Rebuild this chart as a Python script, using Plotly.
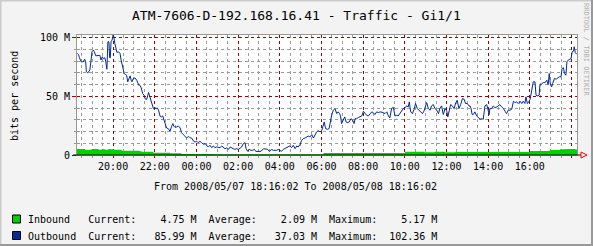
import plotly.graph_objects as go
import pandas as pd

# ---------------- data ----------------
START = pd.Timestamp("2008-05-07 18:16:02")
END = START + pd.Timedelta(hours=24)

# outbound traffic: minutes after start, value in Mbit/s
out_minutes = [
    1, 4, 7, 12, 18, 22, 25, 27, 31, 34, 37, 40, 43, 47, 50, 54, 61, 66, 69, 73, 76, 80,
    83, 86, 89, 92, 94, 96, 98, 101, 104, 106, 109, 112, 115, 120, 124, 127, 130, 133,
    136, 139, 143, 146, 150, 153, 156, 158, 162, 167, 172, 175, 178, 181, 185, 189, 193,
    197, 201, 204, 206, 210, 213, 216, 220, 225, 228, 231, 235, 239, 243, 247, 251, 254,
    258, 263, 268, 272, 276, 279,
    281, 287, 292, 297, 301, 306, 311, 316, 321, 325, 330, 335, 340, 345, 349, 354, 359,
    364, 369, 373, 378, 383, 388, 393, 397, 402, 407, 412, 417, 421, 426, 431, 436, 441,
    445, 450, 455, 460, 465, 469, 474, 479, 484, 487, 492, 496, 501, 506, 511, 515, 520,
    525, 530, 537, 543, 549, 554,
    561, 565, 570, 575, 580, 585, 589, 594, 599, 604, 609, 613, 618, 623, 628, 633, 637,
    642, 647, 652, 657, 661, 666, 671, 676, 681, 685, 690, 695, 700, 705, 709, 712, 716,
    721, 726, 729, 733, 738, 743, 748, 752, 756, 759, 762, 767, 771, 775, 780, 784, 789,
    794, 798, 801, 805, 810, 815, 820, 825, 829, 834, 839, 844, 849, 853,
    858, 863, 868, 873, 877, 882, 887, 892, 897, 901, 906, 911, 916, 921, 925, 930, 935,
    940, 945, 949, 954, 957, 961, 966, 971, 975, 980, 985, 990, 995, 999, 1004, 1007,
    1012, 1017, 1021, 1026, 1031, 1036, 1041, 1045, 1050, 1055, 1060, 1065, 1068, 1072,
    1076, 1081, 1086, 1091, 1095, 1100, 1105, 1110, 1115, 1119, 1124, 1129,
    1132, 1135, 1138, 1141, 1146, 1151, 1156, 1161, 1165, 1170, 1175, 1180, 1183, 1187,
    1189, 1194, 1199, 1204, 1209, 1213, 1218, 1223, 1228, 1233, 1237, 1242, 1247, 1252,
    1257, 1261, 1266, 1271, 1276, 1281, 1285, 1290, 1293, 1297, 1300, 1305, 1309, 1314,
    1319, 1322, 1327, 1331, 1333, 1338, 1343, 1348, 1353, 1357, 1360, 1363, 1367, 1370,
    1375, 1380, 1384, 1389, 1394, 1397, 1401, 1404, 1408, 1411, 1415, 1420, 1423, 1426,
    1430, 1432, 1435, 1439,
]
out_mbps = [
    86.6, 85.8, 83.0, 79.5, 79.5, 81.8, 79.5, 71.0, 70.0, 71.5, 72.4, 79.5, 88.0, 89.5,
    88.0, 84.6, 84.6, 85.0, 81.0, 83.8, 82.0, 83.0,
    79.5, 73.2, 96.6, 96.6, 83.0, 83.0, 96.6, 98.0, 102.36, 100.9, 95.0, 91.0, 87.5,
    88.0, 86.5, 81.0, 76.6, 72.4, 69.5, 68.8, 68.0, 62.4, 65.8, 67.5, 63.8, 62.4, 65.2,
    65.8, 63.8, 61.0, 59.5, 59.5, 57.3, 52.4, 51.0, 47.6, 47.6, 51.0, 53.3, 49.6, 45.9,
    41.9, 39.6, 40.2, 39.6, 40.2, 38.2, 33.3, 32.5, 33.3, 29.6, 24.8, 23.0, 22.5, 20.2,
    24.0, 26.8, 24.5,
    23.9, 23.9, 24.5, 23.4, 19.1, 17.4, 16.2, 14.5, 16.0, 14.8, 14.5, 12.0, 11.1, 11.7,
    10.5, 11.7, 10.5, 9.1, 9.7, 8.3, 6.8, 8.3, 6.3, 7.7, 6.3, 6.8, 6.8, 6.3, 7.7, 6.6,
    5.4, 6.0, 4.8, 6.8, 6.0, 5.4, 4.8, 5.4, 4.8, 5.4, 6.8, 9.7, 10.5, 5.4, 3.1, 4.8, 4.0,
    4.0, 4.8, 3.1, 3.1, 3.1, 3.1, 5.4, 5.4, 4.8, 3.1,
    4.8, 4.0, 4.0, 4.0, 4.8, 4.0, 3.1, 4.8, 5.4, 6.0, 6.8, 7.7, 6.3, 8.3, 5.4, 7.7, 6.8,
    8.8, 12.5, 14.0, 14.5, 15.1, 16.2, 15.4, 17.4, 14.5, 17.4, 19.7, 20.8, 19.7, 21.0,
    26.8, 28.2, 22.5, 21.9, 22.5, 27.6, 33.3, 38.2, 39.6, 35.3, 36.8, 35.3, 33.3, 26.8,
    30.5, 32.5, 28.2, 27.6, 28.2, 31.0, 29.6, 26.8, 31.0, 31.0, 31.9, 32.5, 33.3, 37.3,
    35.3, 33.9, 33.3, 35.3, 36.8, 36.2,
    34.5, 36.8, 36.2, 36.8, 36.8, 36.2, 35.3, 36.8, 33.3, 31.6, 39.6, 40.7, 33.3, 33.9,
    33.3, 35.3, 36.8, 39.6, 40.2, 41.9, 41.0, 45.3, 36.8, 35.3, 39.0, 43.9, 39.6, 38.2,
    36.2, 35.3, 37.3, 41.9, 44.7, 39.6, 38.2, 41.9, 43.0, 39.6, 38.2, 35.3, 39.6, 41.9,
    34.5, 39.6, 37.3, 32.5, 38.2, 43.0, 41.9, 39.6, 44.7, 46.7, 39.6, 43.0, 48.1, 47.6,
    43.9, 43.9, 41.9,
    41.9, 39.6, 34.5, 34.5, 36.8, 33.3, 31.6, 30.5, 31.0, 30.5, 41.9, 43.0, 39.6, 34.5,
    39.6, 39.6, 41.9, 40.2, 41.0, 41.9, 43.0, 41.0, 39.6, 37.3, 35.3, 38.2, 38.2, 39.0,
    45.9, 44.7, 45.3, 43.9, 45.9, 43.9, 45.9, 43.9, 49.6, 43.9, 44.7, 47.6, 53.8, 62.4,
    62.4, 51.0, 50.4, 51.0, 59.5, 61.0, 61.8, 61.8, 63.8, 60.0, 69.5, 61.0, 58.1, 61.0,
    65.2, 64.7, 65.8, 66.7, 66.7, 73.8, 74.4, 69.5, 68.0, 79.5, 81.0, 82.3, 82.3, 88.0,
    88.6, 92.3, 87.5, 85.99,
]

# inbound traffic (step series): minutes after start, value in Mbit/s
in_minutes = [0, 23, 42, 62, 71, 81, 90, 95, 105, 129, 181, 186, 220, 268, 300, 393,
              710, 945, 1000, 1030, 1060, 1090, 1130, 1305, 1362, 1391, 1410, 1435, 1440]
in_mbps = [5.1, 4.5, 5.1, 4.4, 4.8, 4.4, 5.17, 4.8, 4.5, 3.7, 3.1, 2.8, 2.0, 1.4, 0.9,
           0.55, 1.7, 2.7, 2.4, 2.7, 2.4, 2.6, 2.6, 3.4, 4.3, 4.8, 5.1, 4.75, 4.75]

tick_times = ["2008-05-07 20:00", "2008-05-07 22:00", "2008-05-08 00:00",
              "2008-05-08 02:00", "2008-05-08 04:00", "2008-05-08 06:00",
              "2008-05-08 08:00", "2008-05-08 10:00", "2008-05-08 12:00",
              "2008-05-08 14:00", "2008-05-08 16:00", "2008-05-08 18:00"]
tick_labels = ["20:00", "22:00", "00:00", "02:00", "04:00", "06:00",
               "08:00", "10:00", "12:00", "14:00", "16:00", ""]
y_tickvals = [0, 50, 100]
y_ticklabels = ["0", "50 M", "100 M"]

series_names = ["Inbound", "Outbound"]
series_colors = ["#00CF00", "#002A97"]
current_vals = [4.75, 85.99]
average_vals = [2.09, 37.03]
maximum_vals = [5.17, 102.36]

title_text = "ATM-7606-D-192.168.16.41 - Traffic - Gi1/1"
y_title = "bits per second"
range_text = "From 2008/05/07 18:16:02 To 2008/05/08 18:16:02"
watermark = "RRDTOOL / TOBI OETIKER"

# ---------------- figure ----------------
W, H = 593, 246
PL, PR, PT, PB = 77, 577, 35, 155
FONT = "DejaVu Sans Mono"


def xp(px):
    return (px - PL) / (PR - PL)


def yp(py):
    return (PB - py) / (PB - PT)


out_x = [START + pd.Timedelta(minutes=m) for m in out_minutes]
in_x = [START + pd.Timedelta(minutes=m) for m in in_minutes]

fig = go.Figure()
fig.add_trace(go.Scatter(
    x=in_x, y=in_mbps, mode="lines", line=dict(width=0, shape="hv", color=series_colors[0]),
    fill="tozeroy", fillcolor=series_colors[0], name=series_names[0], hoverinfo="skip"))
fig.add_trace(go.Scatter(
    x=out_x, y=out_mbps, mode="lines", line=dict(width=1, color=series_colors[1]),
    name=series_names[1], hoverinfo="skip"))

fig.update_layout(
    width=W, height=H,
    margin=dict(l=PL, r=W - PR, t=PT, b=H - PB, pad=0),
    paper_bgcolor="#F3F3F3", plot_bgcolor="#FFFFFF",
    showlegend=False,
    font=dict(family=FONT, size=10, color="#000000"),
)
fig.update_xaxes(
    type="date", range=[START, END],
    tickvals=tick_times, ticktext=tick_labels,
    showgrid=True, gridcolor="rgba(140,0,0,0.95)", griddash="dot", gridwidth=1,
    ticks="outside", ticklen=2, tickcolor="#A00000",
    tickfont=dict(family=FONT, size=10),
    showline=True, linecolor="#999999", linewidth=1, mirror=True,
    zeroline=False,
    minor=dict(dtick=30 * 60 * 1000, showgrid=True, gridcolor="#9A9A9A",
               griddash="dot", gridwidth=1, ticks="outside", ticklen=2, tickcolor="#999999"),
)
fig.update_yaxes(
    range=[0, 102.36],
    tickvals=y_tickvals, ticktext=y_ticklabels,
    showgrid=True, gridcolor="rgba(140,0,0,0.95)", griddash="dot", gridwidth=1,
    ticks="outside", ticklen=4, tickcolor="#A00000",
    tickfont=dict(family=FONT, size=10),
    showline=True, linecolor="#999999", linewidth=1, mirror=True,
    zeroline=False,
    minor=dict(dtick=10, showgrid=True, gridcolor="#9A9A9A", griddash="dot", gridwidth=1,
               ticks="outside", ticklen=2, tickcolor="#999999"),
)

shapes = []
# x axis line (black) and red arrow
shapes.append(dict(type="line", xref="paper", yref="paper", x0=xp(PL - 4), x1=xp(581),
                   y0=0, y1=0, line=dict(color="#101010", width=1), layer="above"))
ax, ay = xp(581), 0
shapes.append(dict(type="path", xref="paper", yref="paper",
                   path=f"M {ax},{yp(PB - 3)} L {xp(587)},{ay} L {ax},{yp(PB + 3)} Z",
                   line=dict(color="#FF0000", width=1), fillcolor="rgba(0,0,0,0)",
                   layer="above"))
# image frame (shaded border)
shapes.append(dict(type="line", xref="paper", yref="paper", x0=xp(0.5), x1=xp(0.5),
                   y0=yp(0), y1=yp(H), line=dict(color="#CBCBCB", width=2)))
shapes.append(dict(type="line", xref="paper", yref="paper", x0=xp(0), x1=xp(W),
                   y0=yp(0.5), y1=yp(0.5), line=dict(color="#CBCBCB", width=2)))
shapes.append(dict(type="line", xref="paper", yref="paper", x0=xp(W - 1), x1=xp(W - 1),
                   y0=yp(0), y1=yp(H), line=dict(color="#999999", width=2)))
shapes.append(dict(type="line", xref="paper", yref="paper", x0=xp(0), x1=xp(W),
                   y0=yp(H - 1), y1=yp(H - 1), line=dict(color="#999999", width=2)))

annotations = [
    dict(text=title_text, x=xp(296.5), y=yp(16), font=dict(family=FONT, size=13)),
    dict(text=y_title, x=xp(14), y=yp(96), textangle=-90, font=dict(family=FONT, size=10)),
    dict(text=range_text, x=xp(295.5), y=yp(186), font=dict(family=FONT, size=10)),
    dict(text=watermark, x=xp(586), y=yp(50), textangle=90,
         font=dict(family=FONT, size=7, color="#B0B0B0")),
]

row_y = [219.5, 236]
for i, name in enumerate(series_names):
    line = (f"{name:<10}Current:{current_vals[i]:>8.2f} M  "
            f"Average:{average_vals[i]:>8.2f} M  Maximum:{maximum_vals[i]:>8.2f} M")
    annotations.append(dict(text=line.replace(" ", "\u00a0"), x=xp(25.5), y=yp(row_y[i]),
                            xanchor="left", font=dict(family=FONT, size=10)))
    shapes.append(dict(type="rect", xref="paper", yref="paper",
                       x0=xp(12.5), x1=xp(20.5), y0=yp(row_y[i] - 4.5), y1=yp(row_y[i] + 3.5),
                       fillcolor=series_colors[i], line=dict(color="#000000", width=1)))

for a in annotations:
    a.setdefault("xref", "paper")
    a.setdefault("yref", "paper")
    a.setdefault("showarrow", False)
    a.setdefault("xanchor", "center")
    a.setdefault("yanchor", "middle")

fig.update_layout(shapes=shapes, annotations=annotations)
fig.write_html("out.html")
